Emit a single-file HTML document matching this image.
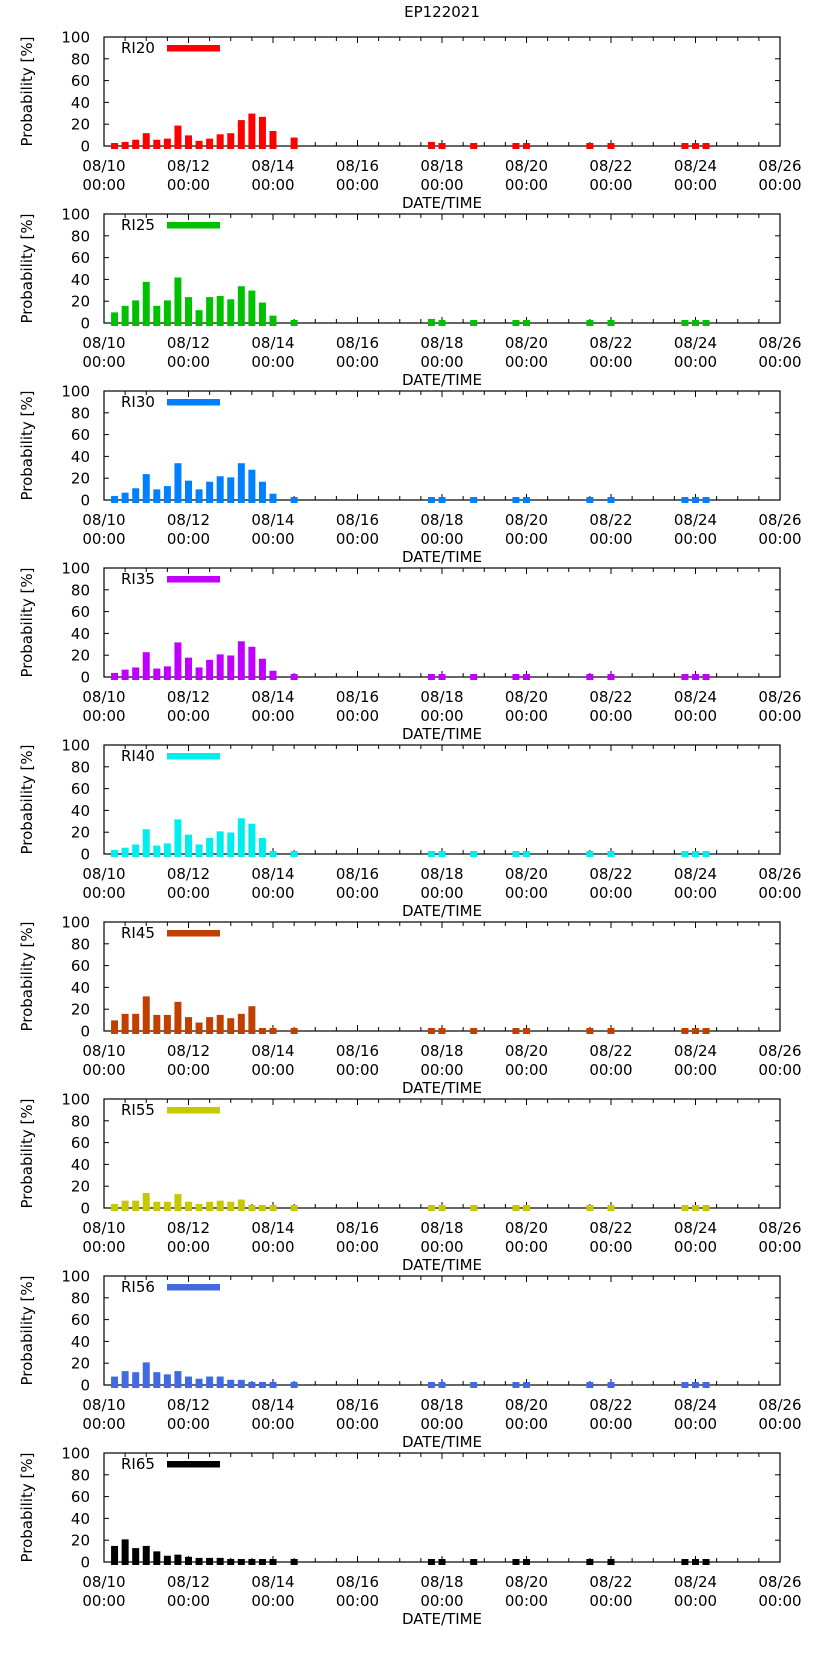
<!DOCTYPE html>
<html><head><meta charset="utf-8"><style>
html,body{margin:0;padding:0;background:#fff}
svg text{font-family:"DejaVu Sans","Liberation Sans",sans-serif;fill:#000}
</style></head><body>
<svg id="chart" width="822" height="1653" viewBox="0 0 822 1653" xmlns="http://www.w3.org/2000/svg">
<text x="442" y="17" font-size="15" text-anchor="middle">EP122021</text>
</svg>
<script>
const panelNames=["RI20","RI25","RI30","RI35","RI40","RI45","RI55","RI56","RI65"];
const panelColors=["#ff0000","#00c000","#0080ff","#c000ff","#00eeee","#c04000","#c8c800","#4169e1","#000000"];
const hours=[6,12,18,24,30,36,42,48,54,60,66,72,78,84,90,96,108,186,192,210,234,240,276,288,330,336,342];
const ri20=[0,1,3,9,3,4,16,7,2,4,8,9,21,27,24,11,5,1,0,0,0,0,0,0,0,0,0];
const ri25=[7,13,18,35,13,18,39,21,9,21,22,19,31,27,16,4,0,1,0,0,0,0,0,0,0,0,0];
const ri30=[1,4,8,21,7,10,31,15,7,14,19,18,31,25,14,3,0,0,0,0,0,0,0,0,0,0,0];
const ri35=[1,4,6,20,5,7,29,15,6,13,18,17,30,25,14,3,0,0,0,0,0,0,0,0,0,0,0];
const ri40=[1,3,6,20,5,7,29,15,6,12,18,17,30,25,12,0,0,0,0,0,0,0,0,0,0,0,0];
const ri45=[7,13,13,29,12,12,24,10,5,10,12,9,13,20,0,0,0,0,0,0,0,0,0,0,0,0,0];
const ri55=[1,4,4,11,3,3,10,3,1,3,4,3,5,0,0,0,0,0,0,0,0,0,0,0,0,0,0];
const ri56=[5,10,9,18,9,7,10,5,3,5,5,2,2,0,0,0,0,0,0,0,0,0,0,0,0,0,0];
const ri65=[12,18,10,12,7,3,4,2,1,1,1,0,0,0,0,0,0,0,0,0,0,0,0,0,0,0,0];
const series=[ri20,ri25,ri30,ri35,ri40,ri45,ri55,ri56,ri65];
const xTickLabels=["08/10","08/12","08/14","08/16","08/18","08/20","08/22","08/24","08/26"];
const yTicks=[0,20,40,60,80,100];

const svg=document.getElementById('chart');
const NS="http://www.w3.org/2000/svg";
const L=104,R=780,H=109,TOTALH=384;
function xs(h){return L+(R-L)*h/TOTALH;}
function mk(tag,attrs,parent){const e=document.createElementNS(NS,tag);for(const k in attrs)e.setAttribute(k,attrs[k]);(parent||svg).appendChild(e);return e;}
series.forEach((vals,p)=>{
  const top=37+177*p, zero=top+H;
  const ys=v=>zero-H*v/100;
  const g=mk('g',{});
  
  
  // x ticks (behind bars)
  for(let h=0;h<=TOTALH;h+=12){
    const x=xs(h), len=(h%48===0)?6:4;
    mk('line',{x1:x,x2:x,y1:zero,y2:zero-len,stroke:'#000'},g);
    mk('line',{x1:x,x2:x,y1:top,y2:top+len,stroke:'#000'},g);
  }
  // y ticks
  yTicks.forEach(t=>{
    const y=ys(t);
    mk('line',{x1:L,x2:L+5,y1:y,y2:y,stroke:'#000'},g);
    mk('line',{x1:R-5,x2:R,y1:y,y2:y,stroke:'#000'},g);
    const tx=mk('text',{x:90,y:y+5.5,'font-size':15,'text-anchor':'end'},g);
    tx.textContent=t;
    
    
  });
  // frame
  const f=mk('rect',{x:L,y:top,width:R-L,height:H,fill:'none',stroke:'#000','stroke-width':1.2},g);
  
  
  // bars
  vals.forEach((v,i)=>{
    const cx=xs(hours[i]);
    const r=mk('rect',{x:cx-3.5,y:ys(v)-3,width:7,height:zero+3-(ys(v)-3),fill:panelColors[p]},g);
    
    
  });
  xTickLabels.forEach((lab,i)=>{
    const x=xs(i*48);
    const t1=mk('text',{x:x,y:zero+25,'font-size':15,'text-anchor':'middle'},g);
    t1.textContent=lab;
    
    
    const t2=mk('text',{x:x,y:zero+44,'font-size':15,'text-anchor':'middle'},g);
    t2.textContent="00:00";
    
    
  });
  const xt=mk('text',{x:442,y:zero+62,'font-size':15,'text-anchor':'middle'},g);
  xt.textContent="DATE/TIME";
  
  
  const yt=mk('text',{x:0,y:0,'font-size':15,'text-anchor':'middle',transform:'translate(32,'+(top+H/2)+') rotate(-90)'},g);
  yt.textContent="Probability [%]";
  
  
  const lt=mk('text',{x:121,y:top+16,'font-size':15},g);
  lt.textContent=panelNames[p];
  
  
  const ll=mk('rect',{x:167,y:top+8,width:53,height:6.5,fill:panelColors[p]},g);
  
  
});
</script>
</body></html>
